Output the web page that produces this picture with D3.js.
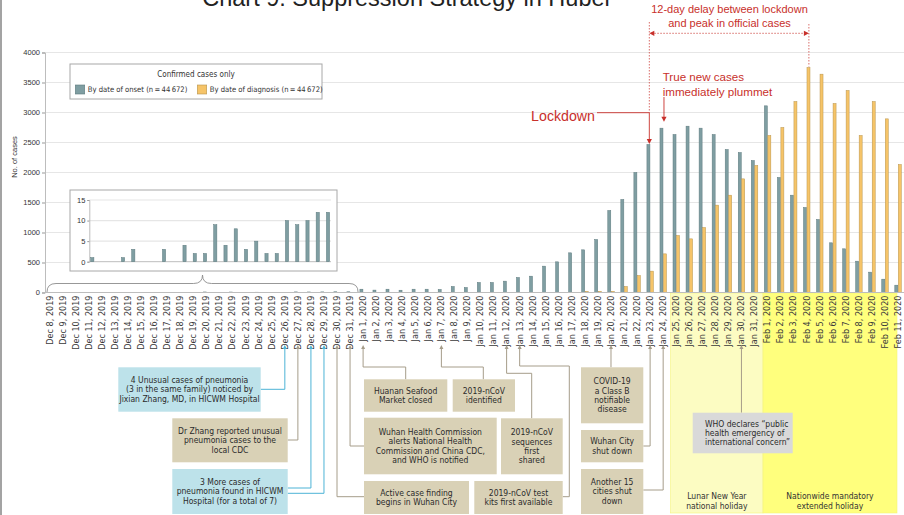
<!DOCTYPE html>
<meta charset="utf-8">
<script src="https://d3js.org/d3.v7.min.js"></script>
<style>
  body { margin: 0; background: #fff; }
  text { font-family: "Liberation Sans", Arial, sans-serif; }
</style>
<svg id="chart" width="904" height="515"></svg>
<script>
// ---- data ----
const firstDay = new Date(2019, 11, 8), lastDay = new Date(2020, 1, 11);
const days = d3.timeDay.range(firstDay, d3.timeDay.offset(lastDay, 1));
const dayLabels = days.map(d3.timeFormat("%b %-d, %Y"));

// Dec 8 - Dec 31 (also the inset)
const decOnset = [1, 0, 0, 1, 3, 0, 0, 3, 0, 4, 2, 2, 9, 4, 8, 3, 5, 2, 2, 10, 9, 10, 12, 12];
// Jan 1 - Feb 11
const janFebOnset = [55, 40, 55, 38, 55, 55, 50, 100, 83, 167, 167, 189, 250, 272, 439, 511, 661, 711, 883,
  1367, 1550, 2000, 2467, 2739, 2633, 2772, 2739, 2633, 2383, 2333, 2200,
  3111, 1917, 1622, 1417, 1217, 828, 728, 522, 339, 222, 122];
const onset = decOnset.concat(janFebOnset);
const diagnosis = [
  0, 0, 0, 0, 0, 0, 0, 0, 0, 0, 0, 0, 0, 0, 0, 0, 0, 0, 0, 0, 0, 0, 0, 0,
  0, 0, 0, 0, 0, 0, 0, 0, 0, 0, 0, 0, 0, 0, 0, 0, 0, 20, 20, 20, 100, 283, 356, 644,
  950, 894, 1083, 1456, 1622, 1894, 2117,
  2617, 2750, 3183, 3750, 3639, 3150, 3367, 2617, 3183, 2894, 2133];
const insetLabels = dayLabels.slice(0, 24);
const yTicks = [0, 500, 1000, 1500, 2000, 2500, 3000, 3500, 4000];
const insetTicks = [0, 5, 10, 15];

const GRAY = "#7f9ea2", GRAY_S = "#5d7a7e", ORANGE = "#f6c468", ORANGE_S = "#b8954e";
const RED = "#c8302b", TAN = "#d9d1b6", TAN_L = "#a69d8a", CYAN = "#bde2ea", CYAN_L = "#4db3d6";
const NARROW = '"Liberation Sans Narrow", "DejaVu Sans Condensed", "Liberation Sans", sans-serif';

const svg = d3.select("#chart");

// frame line on the left
svg.append("line").attr("x1", 1).attr("x2", 1).attr("y1", 0).attr("y2", 515)
  .attr("stroke", "#a3a3a3").attr("stroke-width", 2);

// ---- scales ----
const x = d3.scalePoint().domain(dayLabels).range([50, 898]);
const y = d3.scaleLinear().domain([0, 4000]).range([292.5, 52.5]);

// title (cut by the top edge, as in the original)
svg.append("text").attr("x", 406).attr("y", 6).attr("text-anchor", "middle")
  .style("font-size", "23.5px").style("font-weight", 300).attr("fill", "#222")
  .text("Chart 9: Suppression Strategy in Hubei");

// gridlines + y axis
svg.append("g").selectAll("line").data(yTicks.slice(1)).join("line")
  .attr("x1", 45).attr("x2", 904).attr("y1", d => y(d)).attr("y2", d => y(d))
  .attr("stroke", "#e6e6e6").attr("stroke-width", 1.2);
const yAxis = svg.append("g").attr("transform", "translate(45,0)")
  .call(d3.axisLeft(y).tickValues(yTicks).tickFormat(d3.format("d")).tickSize(3).tickPadding(2));
yAxis.select(".domain").attr("stroke", "#bdbdbd");
yAxis.selectAll(".tick line").attr("stroke", "#999");
yAxis.selectAll("text").style("font-size", "7.5px").attr("fill", "#333")
  .style("font-family", '"Liberation Sans", sans-serif');
svg.append("text").attr("transform", "translate(17,157) rotate(-90)").attr("text-anchor", "middle")
  .style("font-size", "7.5px").attr("fill", "#333").text("No. of cases");

// holiday shading
const holidays = [
  { x0: x("Jan 24, 2020") + 7.5, x1: x("Feb 1, 2020") - 4.5, fill: "#fcfcc2", lines: ["Lunar New Year", "national holiday"] },
  { x0: x("Feb 1, 2020") - 4.5, x1: x("Feb 11, 2020") - 1, fill: "#ffff7d", lines: ["Nationwide mandatory", "extended holiday"] }
];
svg.append("g").selectAll("rect").data(holidays).join("rect")
  .attr("x", d => d.x0).attr("width", d => d.x1 - d.x0).attr("y", 293).attr("height", 220)
  .attr("fill", d => d.fill).attr("stroke", "#f3f37a").attr("stroke-width", 0.6);
holidays.forEach(h => {
  svg.append("text").attr("text-anchor", "middle").style("font-family", NARROW)
    .style("font-size", "8.5px").attr("fill", "#333")
    .selectAll("tspan").data(h.lines).join("tspan")
    .attr("x", (h.x0 + h.x1) / 2).attr("y", (d, i) => 499 + i * 9.6).text(d => d);
});

// bars
svg.append("g").selectAll("rect").data(onset).join("rect")
  .attr("x", (d, i) => x(dayLabels[i]) - 3.2).attr("width", 3)
  .attr("y", d => y(d)).attr("height", d => y(0) - y(d))
  .attr("fill", GRAY).attr("stroke", GRAY_S).attr("stroke-width", 0.5);
svg.append("g").selectAll("rect").data(diagnosis).join("rect")
  .attr("x", (d, i) => x(dayLabels[i]) + 0.3).attr("width", 3)
  .attr("y", d => y(d)).attr("height", d => y(0) - y(d))
  .attr("fill", ORANGE).attr("stroke", ORANGE_S).attr("stroke-width", 0.5);

// x axis
svg.append("line").attr("x1", 45).attr("x2", 904).attr("y1", y(0)).attr("y2", y(0)).attr("stroke", "#bdbdbd");
svg.append("g").selectAll("text").data(dayLabels).join("text")
  .attr("transform", d => `translate(${x(d)},${y(0) + 3}) rotate(-90)`)
  .attr("text-anchor", "end").attr("dy", "0.35em")
  .style("font-family", '"DejaVu Sans", sans-serif').style("font-size", "8.1px").attr("fill", "#3a3a3a")
  .text(d => d);

// brace over December
const bx0 = x(dayLabels[0]) - 3, bx1 = x(dayLabels[23]) + 8, bm = (bx0 + bx1) / 2;
svg.append("path")
  .attr("d", `M${bx0},292 Q${bx0},283.5 ${bx0 + 9},283.5 H${bm - 9} Q${bm},283.5 ${bm},275 Q${bm},283.5 ${bm + 9},283.5 H${bx1 - 9} Q${bx1},283.5 ${bx1},292`)
  .attr("fill", "none").attr("stroke", "#8c8c8c").attr("stroke-width", 0.9);

// ---- inset ----
svg.append("rect").attr("x", 70).attr("y", 190).attr("width", 267).attr("height", 81)
  .attr("fill", "#fff").attr("stroke", "#a8a8a8");
const xi = d3.scalePoint().domain(insetLabels).range([92.3, 328]);
const yi = d3.scaleLinear().domain([0, 15]).range([261.7, 200]);
svg.append("g").selectAll("line").data(insetTicks.slice(1)).join("line")
  .attr("x1", 89.3).attr("x2", 331).attr("y1", d => yi(d)).attr("y2", d => yi(d))
  .attr("stroke", "#e6e6e6").attr("stroke-width", 1.2);
const yiAxis = svg.append("g").attr("transform", "translate(89.3,0)")
  .call(d3.axisLeft(yi).tickValues(insetTicks).tickSize(2).tickPadding(2));
yiAxis.select(".domain").attr("stroke", "#bdbdbd");
yiAxis.selectAll(".tick line").attr("stroke", "#999");
yiAxis.selectAll("text").style("font-size", "7.5px").attr("fill", "#333");
svg.append("line").attr("x1", 89.3).attr("x2", 331).attr("y1", yi(0)).attr("y2", yi(0)).attr("stroke", "#bdbdbd");
svg.append("g").selectAll("rect").data(decOnset).join("rect")
  .attr("x", (d, i) => xi(insetLabels[i]) - 1.6).attr("width", 3.2)
  .attr("y", d => yi(d)).attr("height", d => yi(0) - yi(d))
  .attr("fill", GRAY).attr("stroke", GRAY_S).attr("stroke-width", 0.5);

// ---- legend ----
svg.append("rect").attr("x", 70).attr("y", 64).attr("width", 252).attr("height", 35)
  .attr("fill", "#fff").attr("stroke", "#a8a8a8");
svg.append("text").attr("x", 196).attr("y", 74).attr("dy", "0.35em").attr("text-anchor", "middle")
  .style("font-family", NARROW).style("font-size", "8px").attr("fill", "#333").text("Confirmed cases only");
const legendItems = [
  { x: 75.3, fill: GRAY, stroke: GRAY_S, label: "By date of onset (n\u2009=\u200944\u2009672)" },
  { x: 197.3, fill: ORANGE, stroke: ORANGE_S, label: "By date of diagnosis (n\u2009=\u200944\u2009672)" }
];
legendItems.forEach(d => {
  svg.append("rect").attr("x", d.x).attr("y", 85).attr("width", 9.4).attr("height", 9)
    .attr("fill", d.fill).attr("stroke", d.stroke).attr("stroke-width", 0.6);
  svg.append("text").attr("x", d.x + 12.5).attr("y", 89.6).attr("dy", "0.35em")
    .style("font-family", NARROW).style("font-size", "7.6px").attr("fill", "#333").text(d.label);
});

// ---- event connectors ----
const tipY = 345;
const connectors = [
  { day: "Dec 26, 2019", color: CYAN_L, route: "V389.3H260.7" },
  { day: "Dec 27, 2019", color: TAN_L, route: "V440H287.7" },
  { day: "Dec 28, 2019", color: CYAN_L, route: "V488H287.7" },
  { day: "Dec 29, 2019", color: CYAN_L, route: "V493.3H287.7" },
  { day: "Dec 30, 2019", color: TAN_L, route: "V496.7H364" },
  { day: "Dec 31, 2019", color: TAN_L, route: "V446H364" },
  { day: "Jan 1, 2020", color: TAN_L, route: "V367H405.7V379.3" },
  { day: "Jan 7, 2020", color: TAN_L, route: "V367H483.3V379.3" },
  { day: "Jan 12, 2020", color: TAN_L, route: "V373.3H531.7V418.3" },
  { day: "Jan 13, 2020", color: TAN_L, route: "V366H569.3V496.7H562.7" },
  { day: "Jan 20, 2020", color: TAN_L, route: "V367.3" },
  { day: "Jan 23, 2020", color: TAN_L, route: "V446H643.3" },
  { day: "Jan 24, 2020", color: TAN_L, route: "V490H643.3" },
  { day: "Jan 30, 2020", color: TAN_L, route: "V412.7" }
];
connectors.forEach(c => {
  const cx = x(c.day);
  svg.append("path").attr("d", `M${cx},${tipY + 3}${c.route}`)
    .attr("fill", "none").attr("stroke", c.color).attr("stroke-width", 1);
  svg.append("path").attr("d", `M${cx},${tipY}L${cx - 2},${tipY + 4}L${cx + 2},${tipY + 4}Z`).attr("fill", c.color);
});

// ---- event boxes ----
const boxes = [
  { x0: 118.3, y0: 367.3, x1: 260.7, y1: 411.7, fill: CYAN, lines: ["4 Unusual cases of pneumonia", "(3 in the same family) noticed by", "Jixian Zhang, MD, in HICWM Hospital"] },
  { x0: 172.3, y0: 418.3, x1: 287.7, y1: 462.3, fill: TAN, lines: ["Dr Zhang reported unusual", "pneumonia cases to the", "local CDC"] },
  { x0: 172.3, y0: 469, x1: 287.7, y1: 514, fill: CYAN, lines: ["3 More cases of", "pneumonia found in HICWM", "Hospital (for a total of 7)"] },
  { x0: 364, y0: 379.3, x1: 447.3, y1: 411.7, fill: TAN, lines: ["Huanan Seafood", "Market closed"] },
  { x0: 452.7, y0: 379.3, x1: 515, y1: 411.7, fill: TAN, lines: ["2019-nCoV", "identified"] },
  { x0: 364, y0: 417.7, x1: 496.7, y1: 474.3, fill: TAN, lines: ["Wuhan Health Commission", "alerts National Health", "Commission and China CDC,", "and WHO is notified"] },
  { x0: 364, y0: 481, x1: 469, y1: 514, fill: TAN, lines: ["Active case finding", "begins in Wuhan City"] },
  { x0: 501, y0: 418.3, x1: 562.7, y1: 474.3, fill: TAN, lines: ["2019-nCoV", "sequences", "first", "shared"] },
  { x0: 474.3, y0: 481, x1: 562.7, y1: 514, fill: TAN, lines: ["2019-nCoV test", "kits first available"] },
  { x0: 581, y0: 367.3, x1: 643.3, y1: 423.3, fill: TAN, lines: ["COVID-19", "a Class B", "notifiable", "disease"] },
  { x0: 581, y0: 430, x1: 643.3, y1: 462.3, fill: TAN, lines: ["Wuhan City", "shut down"] },
  { x0: 581, y0: 469, x1: 643.3, y1: 514, fill: TAN, lines: ["Another 15", "cities shut", "down"] },
  { x0: 692.7, y0: 412.7, x1: 792.7, y1: 453.3, fill: "#d9d9d9", left: 705, lines: ["WHO declares \u201cpublic", "health emergency of", "international concern\u201d"] }
];
const LH = 9.35;
boxes.forEach(b => {
  svg.append("rect").attr("x", b.x0).attr("y", b.y0).attr("width", b.x1 - b.x0).attr("height", b.y1 - b.y0)
    .attr("fill", b.fill);
  const cy = (b.y0 + b.y1) / 2 - (b.lines.length - 1) * LH / 2;
  svg.append("text").attr("text-anchor", b.left ? "start" : "middle")
    .style("font-family", NARROW).style("font-size", "8.5px").attr("fill", "#2b2b2b")
    .selectAll("tspan").data(b.lines).join("tspan")
    .attr("x", b.left || (b.x0 + b.x1) / 2).attr("y", (d, i) => cy + i * LH).attr("dy", "0.35em")
    .text(d => d);
});

// ---- red annotations ----
const red = svg.append("g").attr("fill", RED).attr("stroke", RED);
const xLock = x("Jan 23, 2020") - 0.8, xPeak = x("Feb 4, 2020") + 2.2, xDrop = x("Jan 24, 2020") + 0.8;
const arrowDown = (px, py) => red.append("path").attr("stroke", "none")
  .attr("d", `M${px},${py}L${px - 2.6},${py - 5}L${px + 2.6},${py - 5}Z`);

red.append("line").attr("x1", xLock).attr("x2", xLock).attr("y1", 22).attr("y2", 112.7)
  .attr("stroke-width", 0.7).attr("stroke-dasharray", "1.5,1.5");
red.append("line").attr("x1", xPeak).attr("x2", xPeak).attr("y1", 24).attr("y2", y(diagnosis[58]) - 1)
  .attr("stroke-width", 0.7).attr("stroke-dasharray", "1.5,1.5");
red.append("line").attr("x1", xLock + 2).attr("x2", xPeak - 2).attr("y1", 33.3).attr("y2", 33.3)
  .attr("stroke-width", 0.7).attr("stroke-dasharray", "1.5,1.5");
red.append("path").attr("stroke", "none").attr("d", `M${xLock},33.3l5,-2.6v5.2Z`);
red.append("path").attr("stroke", "none").attr("d", `M${xPeak},33.3l-5,-2.6v5.2Z`);

red.append("path").attr("fill", "none").attr("stroke-width", 0.9)
  .attr("d", `M597,112.7H${xLock}V${y(onset[46]) - 4}`);
arrowDown(xLock, y(onset[46]) - 0.5);
red.append("line").attr("x1", xDrop).attr("x2", xDrop).attr("y1", 97).attr("y2", y(onset[47]) - 10)
  .attr("stroke-width", 0.9);
arrowDown(xDrop, y(onset[47]) - 6.5);

red.append("text").attr("stroke", "none").attr("x", 595).attr("y", 115.7).attr("dy", "0.35em")
  .attr("text-anchor", "end").style("font-size", "14.2px").text("Lockdown");
red.append("text").attr("stroke", "none").style("font-size", "11.6px")
  .selectAll("tspan").data(["True new cases", "immediately plummet"]).join("tspan")
  .attr("x", 662.7).attr("y", (d, i) => 77.3 + i * 15).attr("dy", "0.35em").text(d => d);
red.append("text").attr("stroke", "none").attr("text-anchor", "middle").style("font-size", "11px")
  .selectAll("tspan").data(["12-day delay between lockdown", "and peak in official cases"]).join("tspan")
  .attr("x", 729.5).attr("y", (d, i) => 9.3 + i * 14).attr("dy", "0.35em").text(d => d);
</script>
